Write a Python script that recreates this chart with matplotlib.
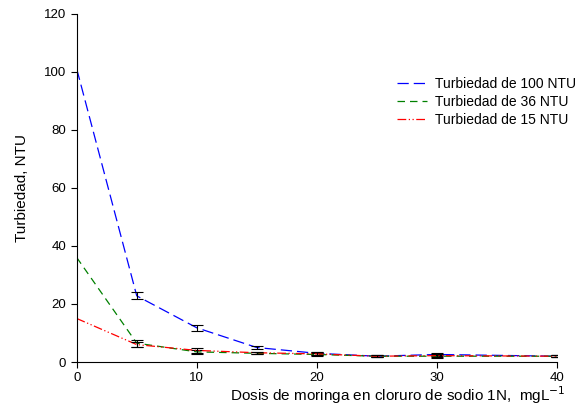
import matplotlib
matplotlib.use('Agg')
import matplotlib.pyplot as plt

plt.rcParams['font.family'] = ['Liberation Sans', 'DejaVu Sans']

dosis = [0, 5, 10, 15, 20, 25, 30, 40]
turb_100 = [101, 22.8, 11.8, 5.0, 3.0, 2.0, 2.6, 2.0]
turb_36 = [36, 6.5, 3.5, 3.0, 2.6, 2.0, 2.0, 2.0]
turb_15 = [15, 6.0, 4.0, 3.2, 2.8, 2.0, 2.2, 2.0]
err_100 = [0, 1.2, 1.0, 0.6, 0.6, 0.3, 0.6, 0.3]
err_36 = [0, 1.2, 0.6, 0.4, 0.6, 0.3, 0.5, 0.3]
err_15 = [0, 0.8, 0.8, 0.4, 0.5, 0.3, 0.5, 0.3]

fig = plt.figure(figsize=(5.77, 4.19), dpi=100)
ax = fig.add_axes([0.133, 0.136, 0.832, 0.831])

series = [
    (turb_100, err_100, 'blue', (0, (9, 4)), 'Turbiedad de 100 NTU'),
    (turb_36, err_36, 'green', (0, (6, 4)), 'Turbiedad de 36 NTU'),
    (turb_15, err_15, 'red', (0, (7, 2, 1, 2, 1, 2)), 'Turbiedad de 15 NTU'),
]

for vals, errs, color, ls, label in series:
    ax.plot(dosis, vals, color=color, linestyle=ls, linewidth=0.9, label=label)
    ax.errorbar(dosis[1:], vals[1:], yerr=errs[1:], fmt='none', ecolor='black',
                elinewidth=0.8, capsize=4, capthick=0.8)

ax.set_xlim(0, 40)
ax.set_ylim(0, 120)
ax.set_xticks(range(0, 41, 10))
ax.set_yticks(range(0, 121, 20))
ax.spines['top'].set_visible(False)
ax.spines['right'].set_visible(False)
ax.tick_params(direction='out', labelsize=9.5, length=4)
ax.set_xlabel('Dosis de moringa en cloruro de sodio 1N,  mgL$^{-1}$', fontsize=11)
ax.set_ylabel('Turbiedad, NTU', fontsize=11)
ax.xaxis.set_label_coords(0.669, -0.065)
ax.yaxis.set_label_coords(-0.1, 0.5)

ax.legend(loc='center left', bbox_to_anchor=(0.688, 0.757),
          bbox_transform=fig.transFigure, frameon=False, fontsize=10,
          handlelength=2.15, handletextpad=0.58, labelspacing=0.3,
          borderpad=0, borderaxespad=0)

fig.savefig('out.png', dpi=100)
